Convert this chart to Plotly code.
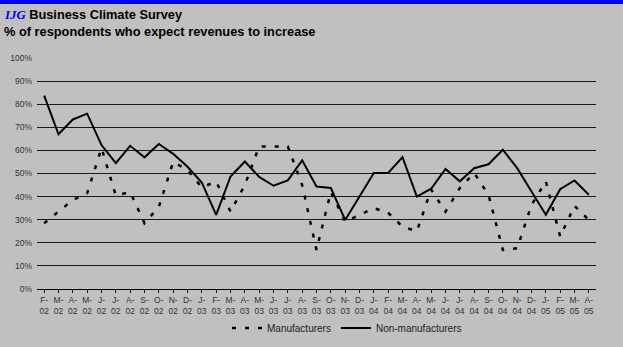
import plotly.graph_objects as go

months = ["F", "M", "A", "M", "J", "J", "A", "S", "O", "N", "D",
          "J", "F", "M", "A", "M", "J", "J", "A", "S", "O", "N", "D",
          "J", "F", "M", "A", "M", "J", "J", "A", "S", "O", "N", "D",
          "J", "F", "M", "A"]
years = ["02"] * 11 + ["03"] * 12 + ["04"] * 12 + ["05"] * 4
categories = [f"{m}-<br>{y}" for m, y in zip(months, years)]

manufacturers = [28.5, 33.5, 38.5, 41.5, 61, 40.5, 42, 28.5, 35.5, 55, 51.5,
                 44, 46.5, 33.5, 45, 61.7, 61.7, 61.7, 45, 16.9, 42, 29.2, 32,
                 35, 33, 27, 25, 43, 33.5, 43.7, 50.2, 40.8, 16.9, 17.6, 36.4,
                 46.6, 22.7, 36, 29.9]
non_manufacturers = [83.7, 67, 73.4, 75.9, 62.3, 54.5, 62, 57, 62.8, 58.5, 52.9,
                     46.1, 32.1, 48.7, 55.2, 48.5, 44.7, 47, 55.7, 44.4, 43.7, 29.9, 40,
                     50.2, 50.2, 57.1, 40, 43.4, 52, 46.6, 52.3, 54, 60.3, 52.3, 42.2,
                     32.1, 43.2, 47, 40.8]
y_ticks = list(range(0, 101, 10))
y_tick_labels = [f"{v}%" for v in y_ticks]

x_idx = list(range(len(categories)))

fig = go.Figure()
fig.add_trace(go.Scatter(
    x=x_idx, y=manufacturers, mode="lines", name="Manufacturers",
    line=dict(color="black", width=2.5, dash="4px,9px"),
))
fig.add_trace(go.Scatter(
    x=x_idx, y=non_manufacturers, mode="lines", name="Non-manufacturers",
    line=dict(color="black", width=2),
))

L, R, T, B = 37, 27, 58, 58
W, H = 623, 347
pw, ph = W - L - R, H - T - B

def px(xpix):
    return (xpix - L) / pw

def py(ypix):
    return (H - B - ypix) / ph

fig.update_layout(
    width=W, height=H,
    margin=dict(l=L, r=R, t=T, b=B, autoexpand=False),
    paper_bgcolor="#C0C0C0", plot_bgcolor="#C0C0C0",
    font=dict(family="Arial, Liberation Sans, sans-serif", color="#333333", size=9),
    showlegend=True,
    legend=dict(orientation="h", x=px(227), xanchor="left", y=py(328), yanchor="middle",
                font=dict(size=10, color="#222222"), itemwidth=30, bgcolor="rgba(0,0,0,0)",
                traceorder="normal"),
    xaxis=dict(
        range=[-0.5, len(categories) - 0.5],
        tickmode="array", tickvals=x_idx, ticktext=categories,
        showgrid=False, zeroline=False,
        showline=True, linecolor="black", linewidth=1,
        ticks="outside", ticklen=3, tickcolor="black", tickson="boundaries",
        tickfont=dict(size=8.5, color="#333333"), tickangle=0,
    ),
    yaxis=dict(
        range=[0, 100], tickmode="array", tickvals=y_ticks, ticktext=y_tick_labels,
        showgrid=True, gridcolor="#1a1a1a", gridwidth=1, zeroline=False,
        showline=False, ticks="", tickfont=dict(size=8.5, color="#333333"),
        ticklabelstandoff=4,
    ),
    shapes=[dict(type="rect", xref="paper", yref="paper",
                 x0=px(0), x1=px(W), y0=py(4), y1=py(0),
                 fillcolor="#0000FF", line=dict(width=0), layer="above")],
    annotations=[
        dict(xref="paper", yref="paper", x=px(2), y=py(15), xanchor="left", yanchor="middle",
             showarrow=False,
             text="<span style='font-family:Liberation Serif, Times New Roman, serif;color:#0000FF'><b><i>IJG</i></b></span> <b>Business Climate Survey</b>",
             font=dict(size=12.8, color="black", family="Arial, Liberation Sans, sans-serif")),
        dict(xref="paper", yref="paper", x=px(2), y=py(31), xanchor="left", yanchor="middle",
             showarrow=False,
             text="<b>% of respondents who expect revenues to increase</b>",
             font=dict(size=12.8, color="black", family="Arial, Liberation Sans, sans-serif")),
    ],
)

fig.write_html("out.html", config={"displayModeBar": False},
               post_script="document.body.style.margin='0';document.body.style.padding='0';")
